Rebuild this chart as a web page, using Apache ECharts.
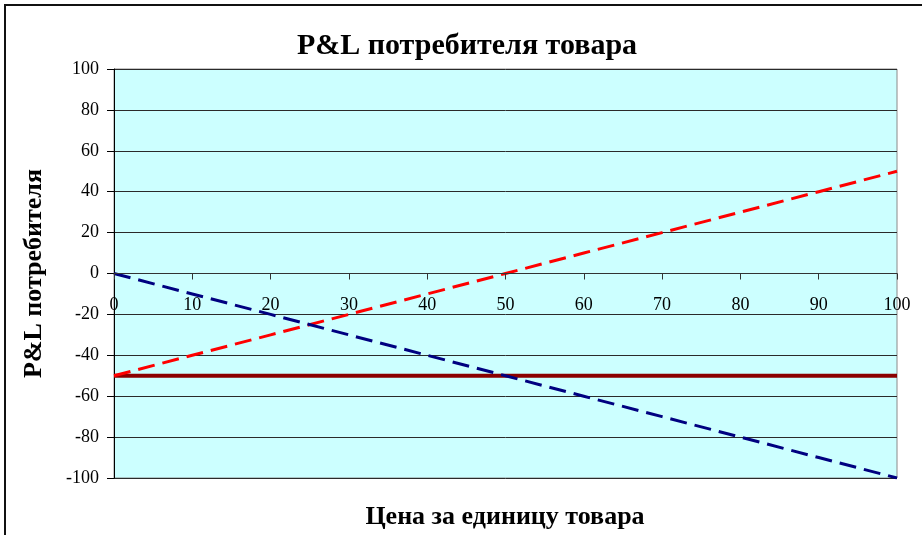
<!DOCTYPE html>
<html>
<head>
<meta charset="utf-8">
<script src="https://cdn.jsdelivr.net/npm/echarts@6/dist/echarts.min.js"></script>
<style>
  html, body { margin: 0; padding: 0; background: #ffffff; }
  #chart { width: 922px; height: 535px; }
</style>
</head>
<body>
<div id="chart"></div>
<script>
// Price per unit of the commodity (x axis)
const prices = [0, 10, 20, 30, 40, 50, 60, 70, 80, 90, 100];
// Consumer P&L components
const pnlRed = [-50, -40, -30, -20, -10, 0, 10, 20, 30, 40, 50];
const pnlBlue = [0, -10, -20, -30, -40, -50, -60, -70, -80, -90, -100];
const pnlFlat = [-50, -50, -50, -50, -50, -50, -50, -50, -50, -50, -50];

const chartTitle = 'P&L потребителя товара';
const xTitle = 'Цена за единицу товара';
const yTitle = 'P&L потребителя';

const serif = '"Liberation Serif", "Times New Roman", serif';

// plot rectangle
const gridTop = 69, gridBottom = 57, chartHeight = 535;
const plotHeight = chartHeight - gridTop - gridBottom;

function pairs(xs, ys) {
  return xs.map((x, i) => [x, ys[i]]);
}

const chart = echarts.init(document.getElementById('chart'), null, { renderer: 'canvas' });

chart.setOption({
  animation: false,
  backgroundColor: '#ffffff',
  textStyle: { fontFamily: serif },
  grid: {
    left: 114, right: 25, top: gridTop, bottom: gridBottom,
    show: true,
    backgroundColor: '#CCFFFF',
    borderColor: '#8a8a8a',
    borderWidth: 1
  },
  xAxis: {
    type: 'value',
    min: 0, max: 100, interval: 10,
    z: 3,
    // the price axis crosses the P&L axis at zero (middle of the range -100..100)
    offset: -plotHeight / 2,
    axisLine: { show: true, onZero: false, lineStyle: { color: '#333333', width: 1 } },
    axisTick: { show: true, inside: false, length: 6, lineStyle: { color: '#333333' } },
    axisLabel: { color: '#000', fontFamily: serif, fontSize: 18, margin: 23 },
    splitLine: { show: false }
  },
  yAxis: {
    type: 'value',
    min: -100, max: 100, interval: 20,
    name: yTitle,
    nameLocation: 'middle',
    nameGap: 67,
    nameRotate: 90,
    nameTextStyle: { color: '#000', fontFamily: serif, fontSize: 26, fontWeight: 'bold' },
    axisLine: { show: true, onZero: false, lineStyle: { color: '#000000', width: 1 } },
    axisTick: { show: true, inside: false, length: 7, lineStyle: { color: '#000000' } },
    axisLabel: { color: '#000', fontFamily: serif, fontSize: 18, margin: 15 },
    splitLine: { show: true, lineStyle: { color: '#2a2a2a', width: 1 } }
  },
  series: [
    {
      type: 'line',
      data: pairs(prices, pnlFlat),
      showSymbol: false,
      lineStyle: { color: '#8B0000', width: 4, type: 'solid' },
      z: 2
    },
    {
      type: 'line',
      data: pairs(prices, pnlRed),
      showSymbol: false,
      lineStyle: { color: '#FF0000', width: 3, type: [17, 8] },
      z: 2
    },
    {
      type: 'line',
      data: pairs(prices, pnlBlue),
      showSymbol: false,
      lineStyle: { color: '#000080', width: 3, type: [17, 8] },
      z: 2
    }
  ],
  graphic: [
    {
      type: 'rect',
      silent: true,
      shape: { x: 5, y: 5, width: 1000, height: 1000 },
      style: { fill: null, stroke: '#111111', lineWidth: 2 },
      z: 100
    },
    {
      type: 'text',
      x: 467, y: 46,
      style: {
        text: chartTitle,
        fill: '#000',
        font: 'bold 30px ' + serif,
        align: 'center',
        verticalAlign: 'middle'
      }
    },
    {
      type: 'text',
      x: 505, y: 517,
      style: {
        text: xTitle,
        fill: '#000',
        font: 'bold 26px ' + serif,
        align: 'center',
        verticalAlign: 'middle'
      }
    }
  ]
});
</script>
</body>
</html>
